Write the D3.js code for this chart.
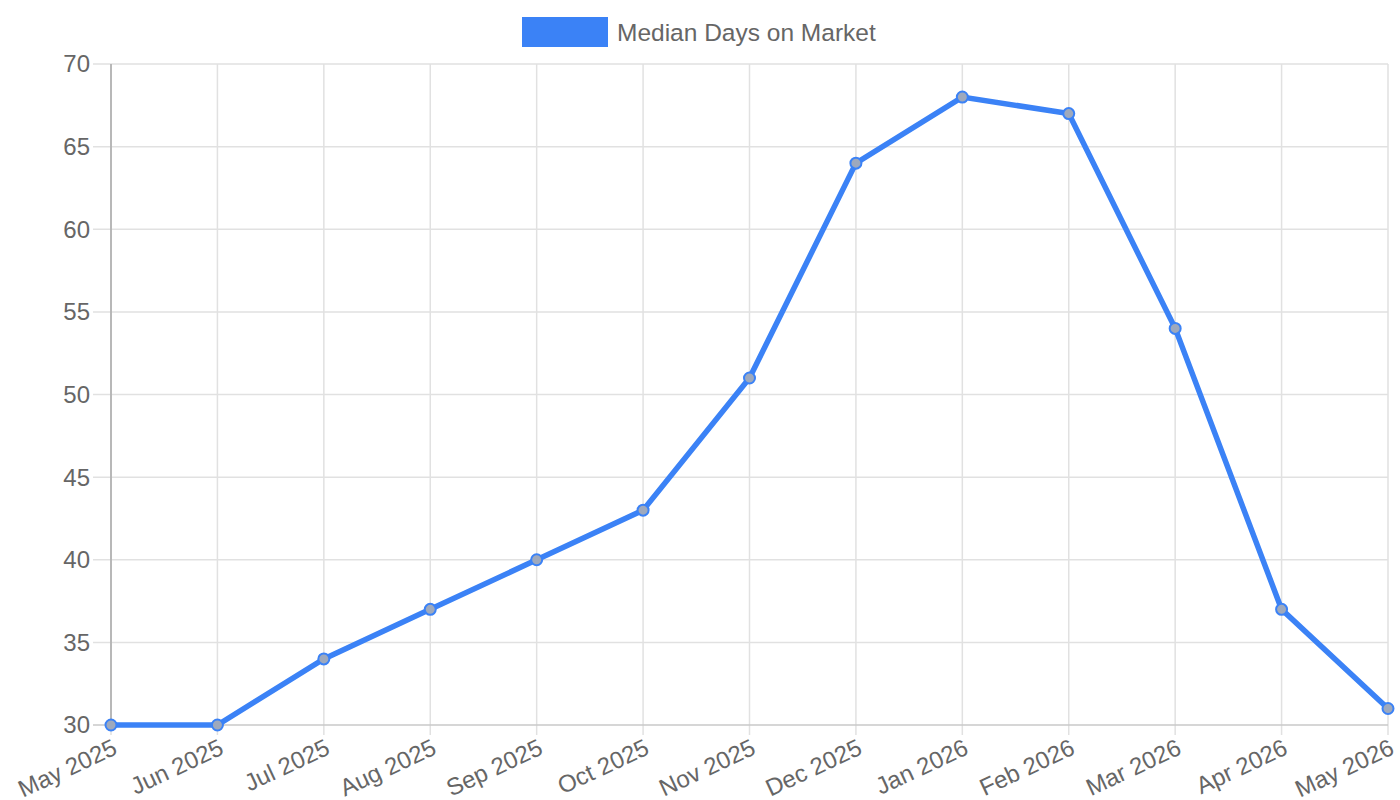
<!DOCTYPE html>
<html>
<head>
<meta charset="utf-8">
<title>Median Days on Market</title>
<script src="https://d3js.org/d3.v7.min.js"></script>
<style>
  body { margin: 0; background: #fff; }
  text { font-family: "Liberation Sans", Arial, sans-serif; fill: #666; }
</style>
</head>
<body>
<div id="chart"></div>
<script>

// データ
const months = ["May 2025", "Jun 2025", "Jul 2025", "Aug 2025", "Sep 2025", "Oct 2025", "Nov 2025",
                "Dec 2025", "Jan 2026", "Feb 2026", "Mar 2026", "Apr 2026", "May 2026"];
const medianDays = [30, 30, 34, 37, 40, 43, 51, 64, 68, 67, 54, 37, 31];
const yTicks = [30, 35, 40, 45, 50, 55, 60, 65, 70];
const seriesName = "Median Days on Market";

const width = 1400;
const height = 800;
const margin = { top: 64, right: 12, bottom: 75, left: 111 };
const lineColor = "#3b82f6";

const svg = d3.select("#chart")
  .append("svg")
  .attr("width", width)
  .attr("height", height);

const x = d3.scalePoint()
  .domain(months)
  .range([margin.left, width - margin.right]);

const y = d3.scaleLinear()
  .domain([30, 70])
  .range([height - margin.bottom, margin.top]);

// グリッド（縦）
svg.append("g")
  .selectAll("line")
  .data(months)
  .join("line")
  .attr("x1", d => x(d)).attr("x2", d => x(d))
  .attr("y1", y(70)).attr("y2", y(30) + 10)
  .attr("stroke", "#e1e1e1")
  .attr("stroke-width", 1.5);

// グリッド（横）
svg.append("g")
  .selectAll("line")
  .data(yTicks)
  .join("line")
  .attr("x1", margin.left - 18).attr("x2", width - margin.right)
  .attr("y1", d => y(d)).attr("y2", d => y(d))
  .attr("stroke", d => d === 30 ? "#c8c8c8" : "#e1e1e1")
  .attr("stroke-width", 1.5);

// 左軸線
svg.append("line")
  .attr("x1", margin.left).attr("x2", margin.left)
  .attr("y1", y(70)).attr("y2", y(30))
  .attr("stroke", "#a8a8a8")
  .attr("stroke-width", 1.5);

// Y ラベル
svg.append("g")
  .selectAll("text")
  .data(yTicks)
  .join("text")
  .attr("x", margin.left - 21)
  .attr("y", d => y(d))
  .attr("dy", "0.35em")
  .attr("text-anchor", "end")
  .style("font-size", "24px")
  .text(d => d);

// X ラベル（回転）
svg.append("g")
  .selectAll("text")
  .data(months)
  .join("text")
  .attr("transform", d => `translate(${x(d)}, ${y(30) + 12}) rotate(-25)`)
  .attr("text-anchor", "end")
  .attr("dy", "0.75em")
  .style("font-size", "24px")
  .text(d => d);

// 折れ線
const line = d3.line()
  .x((d, i) => x(months[i]))
  .y(d => y(d));

svg.append("path")
  .datum(medianDays)
  .attr("d", line)
  .attr("fill", "none")
  .attr("stroke", lineColor)
  .attr("stroke-width", 5.5)
  .attr("stroke-linejoin", "miter");

// ポイント
svg.append("g")
  .selectAll("circle")
  .data(medianDays)
  .join("circle")
  .attr("cx", (d, i) => x(months[i]))
  .attr("cy", d => y(d))
  .attr("r", 5.5)
  .attr("fill", "#9ea9bd")
  .attr("stroke", lineColor)
  .attr("stroke-width", 2);

// 凡例
const legend = svg.append("g");
legend.append("rect")
  .attr("x", 522).attr("y", 17)
  .attr("width", 86).attr("height", 30)
  .attr("fill", lineColor);
legend.append("text")
  .attr("x", 617).attr("y", 32)
  .attr("dy", "0.35em")
  .style("font-size", "24.5px")
  .text(seriesName);

</script>
</body>
</html>
